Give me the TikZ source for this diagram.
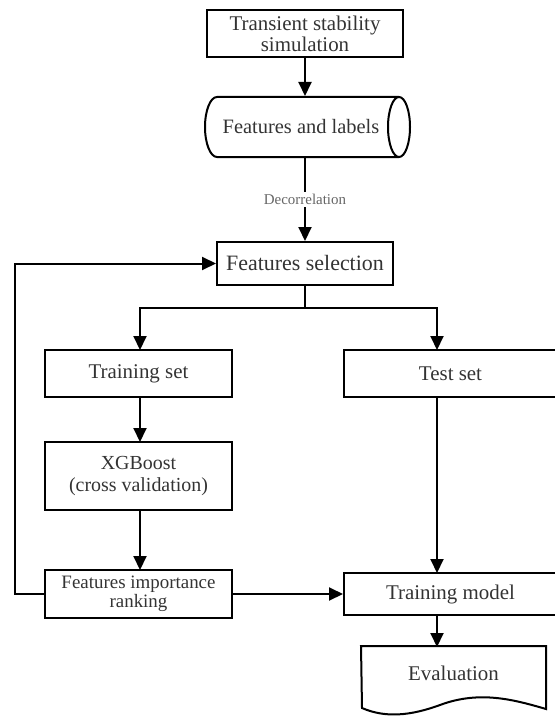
\documentclass[tikz,border=0pt]{standalone}
\usepackage{fontspec}
\setmainfont{Liberation Serif}
\usetikzlibrary{arrows.meta}
\begin{document}
\begin{tikzpicture}[x=1bp,y=-1bp,
  line width=2bp,
  box/.style={draw, rectangle, inner sep=0pt, align=center, font=\fontsize{21}{21}\selectfont, text=black!80},
  lbl/.style={inner sep=0pt, align=center, font=\fontsize{21}{21}\selectfont, text=black!80},
  arr/.style={-{Triangle[length=14bp,width=13bp]}}]
\useasboundingbox (0,0) rectangle (555,719);
\node[box, minimum width=196bp, minimum height=47bp] (sim) at (305,33.5) {Transient stability\\simulation};
\node[lbl, minimum width=205bp, minimum height=60bp] (feat) at (305,127) {};
\node[lbl, font=\fontsize{20.5}{21}\selectfont] (featlbl) at (301,127) {Features and labels};
\draw (217,97) -- (399,97)
  arc[start angle=-90, end angle=90, x radius=11, y radius=30]
  -- (217,157)
  arc[start angle=90, end angle=270, x radius=12, y radius=30] -- cycle;
\draw (399,97) arc[start angle=270, end angle=90, x radius=11, y radius=30];
\node[box, minimum width=176bp, minimum height=43bp, font=\fontsize{22}{22}\selectfont] (sel) at (305,263.5) {Features selection};
\node[box, minimum width=187bp, minimum height=47bp] (train) at (138.5,373.5) {Training set};
\node[box, minimum width=213bp, minimum height=47bp, anchor=west] (test) at (343,373.5) {Test set};
\node[box, minimum width=187bp, minimum height=68bp, font=\fontsize{20}{22}\selectfont] (xgb) at (138.5,476) {XGBoost\\(cross validation)};
\node[box, minimum width=187bp, minimum height=48bp, font=\fontsize{19}{19}\selectfont] (fir) at (138.5,594) {Features importance\\ranking};
\node[box, minimum width=213bp, minimum height=42bp, anchor=west] (tm) at (343,594) {Training model};
\node[lbl, minimum width=183bp, minimum height=52bp] (ev) at (453.5,673) {Evaluation};
\draw (ev.north west) -- (ev.north east) -- ++(0,63)
  .. controls (515,700) and (480,690) .. (440,705)
  .. controls (410,716) and (385,718) .. (362,708) -- cycle;
\coordinate (split) at (305,308);
\coordinate (loop) at (15,594);
\draw[arr] (sim.south) -- (feat.north);
\draw[arr] (feat.south) -- node[fill=white, inner sep=2pt, font=\fontsize{15}{15}\selectfont, text=black!60] {Decorrelation} (sel.north);
\draw (sel.south) -- (split);
\draw[arr] (split) -| (140,350);
\draw[arr] (split) -| (437,350);
\draw[arr] (140,397) -- (140,442);
\draw[arr] (140,510) -- (140,570);
\draw[arr] (437,397) -- (437,573);
\draw[arr] (fir.east) -- (tm.west);
\draw[arr] (437,615) -- (437,647);
\draw[arr] (fir.west) -- (loop) |- (sel.west);
\end{tikzpicture}
\end{document}
